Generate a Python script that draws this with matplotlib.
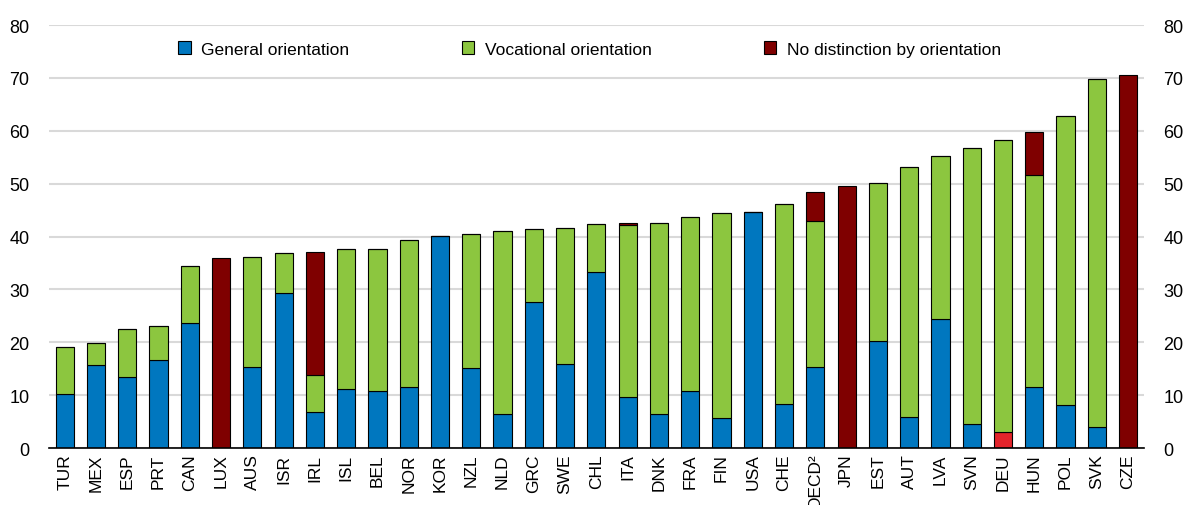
import numpy as np
import matplotlib.pyplot as plt

plt.rcParams['font.family'] = ['Liberation Sans', 'DejaVu Sans']

countries = ['TUR', 'MEX', 'ESP', 'PRT', 'CAN', 'LUX', 'AUS', 'ISR', 'IRL', 'ISL',
             'BEL', 'NOR', 'KOR', 'NZL', 'NLD', 'GRC', 'SWE', 'CHL', 'ITA', 'DNK',
             'FRA', 'FIN', 'USA', 'CHE', 'OECD²', 'JPN', 'EST', 'AUT', 'LVA', 'SVN',
             'DEU', 'HUN', 'POL', 'SVK', 'CZE']

general = [10.3, 15.7, 13.5, 16.7, 23.7, 0, 15.3, 29.4, 6.9, 11.2,
           10.8, 11.6, 40.1, 15.1, 6.4, 27.6, 15.9, 33.3, 9.7, 6.5,
           10.8, 5.7, 44.6, 8.4, 15.4, 0, 20.2, 5.9, 24.4, 4.5,
           3.0, 11.5, 8.1, 3.9, 0]
vocational = [8.9, 4.1, 9.1, 6.3, 10.7, 0, 20.9, 7.5, 7.0, 26.4,
              26.9, 27.7, 0, 25.3, 34.7, 13.8, 25.7, 9.1, 32.5, 36.1,
              32.8, 38.7, 0, 37.8, 27.6, 0, 30.0, 47.3, 30.9, 52.2,
              55.3, 40.1, 54.6, 65.9, 0]
nodist = [0, 0, 0, 0, 0, 36.0, 0, 0, 23.1, 0,
          0, 0, 0, 0, 0, 0, 0, 0, 0.3, 0,
          0, 0, 0, 0, 5.4, 49.5, 0, 0, 0, 0,
          0, 8.1, 0, 0, 70.6]

general = np.array(general)
vocational = np.array(vocational)
nodist = np.array(nodist)

blue = '#0077bf'
green = '#8cc63f'
dred = '#7f0000'
hred = '#e3242b'

x = np.arange(len(countries))
gcol = [hred if c == 'DEU' else blue for c in countries]

fig = plt.figure(figsize=(11.84, 5.06), dpi=100)
ax = fig.add_axes([0.0414, 0.1126, 0.9246, 0.836])

w = 0.58
ax.bar(x, general, w, color=gcol, edgecolor='black', linewidth=0.8,
       label='General orientation', zorder=3)
ax.bar(x, vocational, w, bottom=general, color=green, edgecolor='black',
       linewidth=0.8, label='Vocational orientation', zorder=3)
ax.bar(x, nodist, w, bottom=general + vocational, color=dred, edgecolor='black',
       linewidth=0.8, label='No distinction by orientation', zorder=3)

ax.set_xlim(-0.5, len(countries) - 0.5)
ax.set_ylim(0, 80)
ax.set_yticks(np.arange(0, 81, 10))
ax.yaxis.grid(True, color='#d9d9d9', linewidth=1.5, zorder=0)
ax.set_axisbelow(True)
for s in ['left', 'right', 'top']:
    ax.spines[s].set_visible(False)
ax.spines['bottom'].set_linewidth(1.2)
ax.spines['bottom'].set_zorder(4)

ax.set_xticks(x)
ax.set_xticklabels(countries, rotation=90)
ax.tick_params(axis='x', length=0, labelsize=12.5, pad=4)
ax.tick_params(axis='y', length=0, labelsize=13, pad=14,
               labelright=True, labelleft=True)

ax.legend(loc='upper left', bbox_to_anchor=(0.104, 0.998), ncol=3, frameon=False,
          fontsize=12.5, columnspacing=6.5, handlelength=0.7, handleheight=0.7,
          handletextpad=0.6)

plt.savefig('out.png', dpi=100)
